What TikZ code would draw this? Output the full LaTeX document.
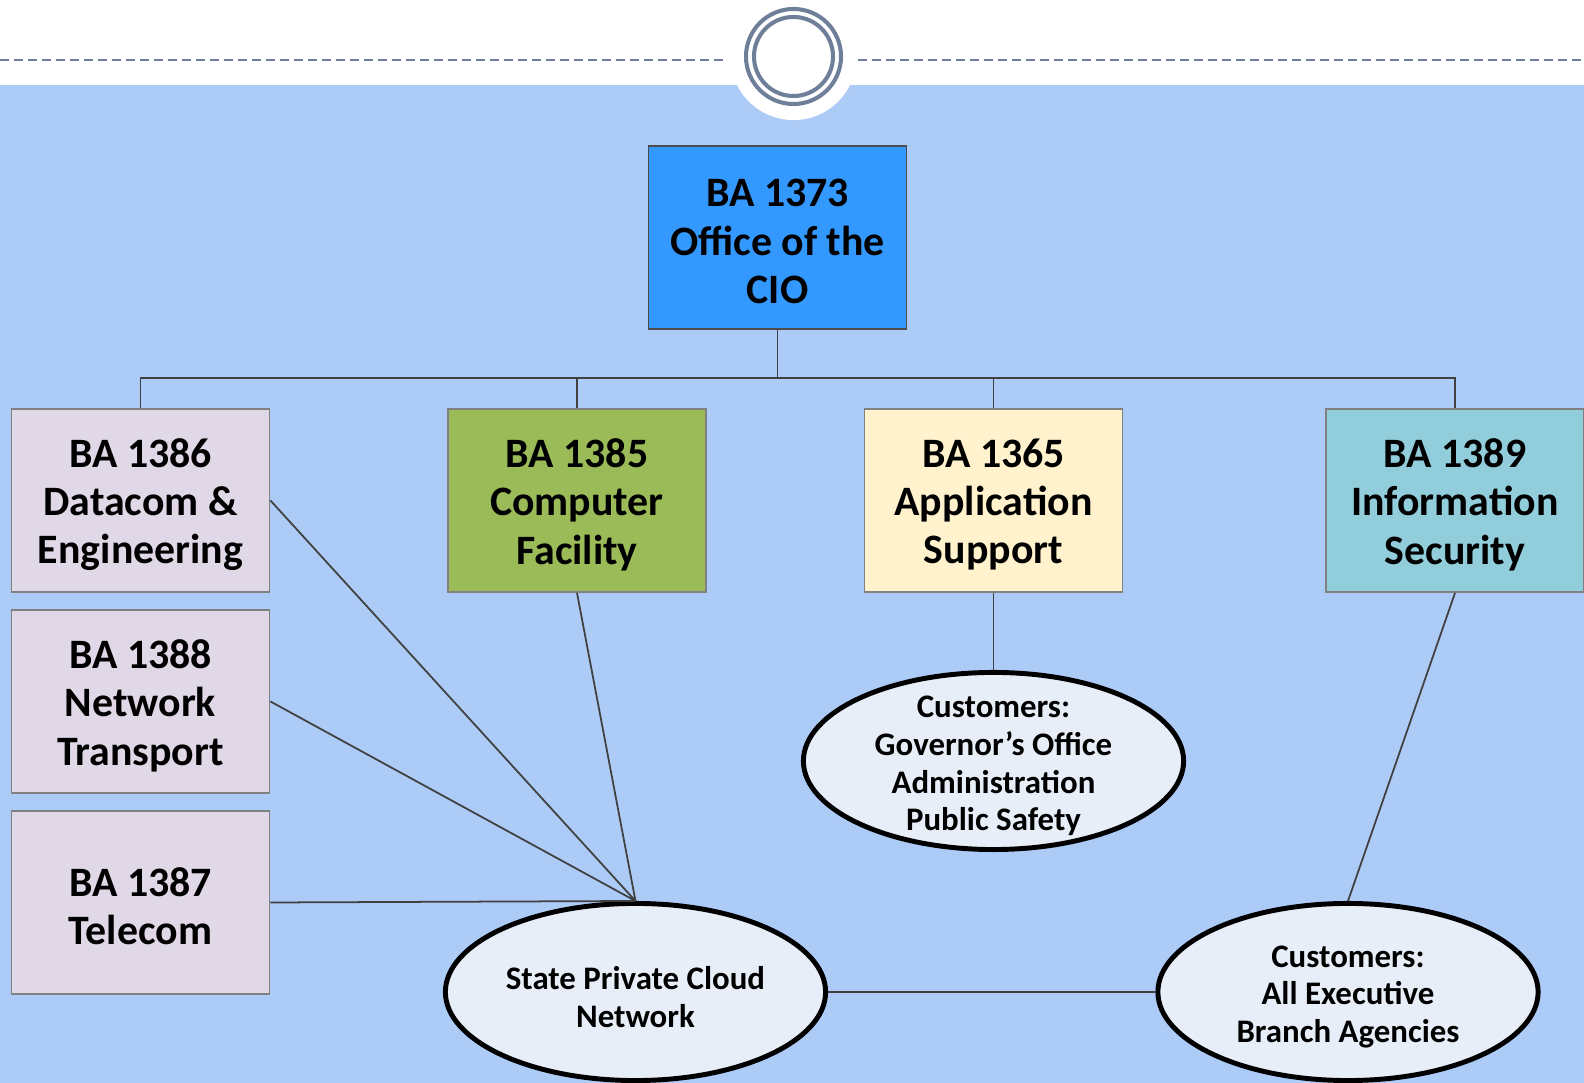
\documentclass[tikz,border=0pt]{standalone}
\usepackage{fontspec}
\setmainfont{Carlito}
\usetikzlibrary{shapes.geometric}

\definecolor{bgblue}{HTML}{ADCBF7}
\definecolor{ringgray}{HTML}{6F7F99}
\definecolor{cioblue}{HTML}{3399FF}
\definecolor{facgreen}{HTML}{9BBB59}
\definecolor{appcream}{HTML}{FFF2CC}
\definecolor{netlilac}{HTML}{E0D8E6}
\definecolor{secteal}{HTML}{92CDDC}
\definecolor{ellfill}{HTML}{E7EEF8}

\begin{document}
\begin{tikzpicture}[x=0.01cm,y=-0.01cm,
  ba/.style={draw=gray,line width=0.5pt,minimum width=2.58cm,minimum height=1.83cm,
    inner sep=0pt,align=center,font=\fontsize{11.9}{13.75}\selectfont\bfseries},
  batext/.style={align=center,yshift=-0.04cm,font=\fontsize{11.9}{13.75}\selectfont\bfseries},
  cust/.style={ellipse,draw=black,line width=1.4pt,fill=ellfill,
    minimum width=3.8cm,minimum height=1.77cm,inner sep=0pt},
  custtext/.style={align=center,yshift=-0.05cm,font=\fontsize{9.35}{10.7}\selectfont\bfseries},
  link/.style={draw=black!75,line width=0.5pt},
  rule/.style={ringgray,line width=0.6pt,dash pattern=on 0.09cm off 0.05cm}]
\useasboundingbox (0,0) rectangle (1584,1083);
% header strip
\fill[white] (0,0) rectangle (1584,1083);
\fill[bgblue] (0,85) rectangle (1584,1083);
\fill[white] (793.5,57) circle (0.63cm);
\draw[rule] (0,60) -- (728,60);
\draw[rule] (858,60) -- (1584,60);
\draw[ringgray,line width=1.15pt] (793.5,56.5) circle (0.475cm);
\draw[ringgray,line width=1.15pt] (793.5,56.5) circle (0.395cm);
% boxes
\node[ba,fill=cioblue,draw=black!70] (cio) at (777.5,237.5) {};
\node[batext] (ciotxt) at (cio) {BA 1373\\Office of the\\CIO};
\node[ba,fill=netlilac] (b1386) at (140.5,500.5) {};
\node[batext] (t1386) at (b1386) {BA 1386\\Datacom \&\\Engineering};
\node[ba,fill=netlilac] (b1388) at (140.5,701.5) {};
\node[batext] (t1388) at (b1388) {BA 1388\\Network\\Transport};
\node[ba,fill=netlilac] (b1387) at (140.5,902.5) {};
\node[batext] (t1387) at (b1387) {BA 1387\\Telecom};
\node[ba,fill=facgreen] (b1385) at (577,500.5) {};
\node[batext] (t1385) at (b1385) {BA 1385\\Computer\\Facility};
\node[ba,fill=appcream] (b1365) at (993.5,500.5) {};
\node[batext] (t1365) at (b1365) {BA 1365\\Application\\Support};
\node[ba,fill=secteal] (b1389) at (1455,500.5) {};
\node[batext] (t1389) at (b1389) {BA 1389\\Information\\Security};
% ellipses
\node[cust] (gov) at (993.5,761) {};
\node[custtext] (govtxt) at (gov) {Customers:\\Governor’s Office\\Administration\\Public Safety};
\node[cust] (cloud) at (635.5,992) {};
\node[custtext] (cloudtxt) at (cloud) {State Private Cloud\\Network};
\node[cust] (exec) at (1348,992) {};
\node[custtext] (exectxt) at (exec) {Customers:\\All Executive\\Branch Agencies};
% tree
\coordinate (bus) at (777.5,378);
\draw[link] (cio.south) -- (bus);
\draw[link] (b1386.north) |- (bus) -| (b1389.north);
\draw[link] (b1385.north) -- (b1385.north |- bus);
\draw[link] (b1365.north) -- (b1365.north |- bus);
% links
\draw[link] (b1386.east) -- (cloud.north);
\draw[link] (b1388.east) -- (cloud.north);
\draw[link] (b1387.east) -- (cloud.north);
\draw[link] (b1385.south) -- (cloud.north);
\draw[link] (b1365.south) -- (gov.north);
\draw[link] (b1389.south) -- (exec.north);
\draw[link] (cloud.east) -- (exec.west);
\end{tikzpicture}
\end{document}
